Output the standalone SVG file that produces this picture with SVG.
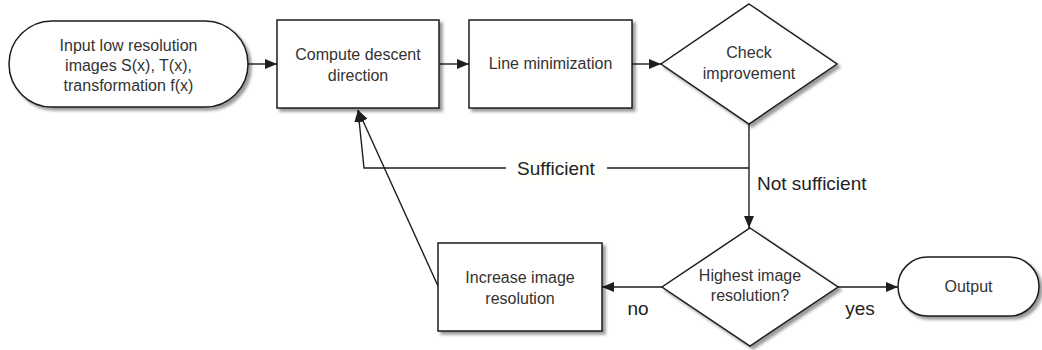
<svg xmlns="http://www.w3.org/2000/svg" width="1042" height="350" viewBox="0 0 1042 350">
  <style>
    .shape { fill: #ffffff; stroke: #1e1e1e; stroke-width: 1.5; filter: url(#shadow); }
    .node-text { font-family: "Liberation Sans", Arial, sans-serif; font-size: 16px; fill: #333333; text-anchor: middle; }
    .edge { fill: none; stroke: #1e1e1e; stroke-width: 1.4; }
    .edge-label { font-family: "Liberation Sans", Arial, sans-serif; font-size: 19px; fill: #222222; }
  </style>
  <defs>
    <filter id="shadow" x="-10%" y="-10%" width="130%" height="140%">
      <feDropShadow dx="3" dy="3" stdDeviation="1.8" flood-color="#000000" flood-opacity="0.4"/>
    </filter>
    <marker id="arrow" viewBox="0 0 12 10" refX="12" refY="5" markerWidth="12" markerHeight="10" markerUnits="userSpaceOnUse" orient="auto">
      <path d="M0,0 L12,5 L0,10 z" fill="#1e1e1e"/>
    </marker>
  </defs>

  <rect width="1042" height="350" fill="#ffffff"/>

  <!-- connectors -->
  <g id="connectors">
    <path class="edge" d="M248,64 L277,64" marker-end="url(#arrow)"/>
    <path class="edge" d="M439,64 L469,64" marker-end="url(#arrow)"/>
    <path class="edge" d="M632,64 L661,64" marker-end="url(#arrow)"/>
    <path class="edge" d="M749,124 L749,228" marker-end="url(#arrow)"/>
    <path class="edge" d="M749,168 L364,168 L358,110" marker-end="url(#arrow)"/>
    <path class="edge" d="M438,286 L358,110" marker-end="url(#arrow)"/>
    <path class="edge" d="M662,287 L602,287" marker-end="url(#arrow)"/>
    <path class="edge" d="M838,287 L898,287" marker-end="url(#arrow)"/>

    <rect x="506" y="154" width="101" height="28" fill="#fffffb"/>
    <text class="edge-label" x="556" y="175" text-anchor="middle">Sufficient</text>
    <text class="edge-label" x="757" y="190">Not sufficient</text>
    <text class="edge-label" x="638" y="315" text-anchor="middle">no</text>
    <text class="edge-label" x="860" y="315" text-anchor="middle">yes</text>
  </g>

  <!-- nodes -->
  <g id="input">
    <rect class="shape" x="9" y="21" width="239" height="86" rx="43" ry="43"/>
    <text class="node-text" x="128.5" y="51">Input low resolution</text>
    <text class="node-text" x="128.5" y="71">images S(x), T(x),</text>
    <text class="node-text" x="128.5" y="91">transformation f(x)</text>
  </g>

  <g id="descent">
    <rect class="shape" x="277" y="20" width="162" height="88"/>
    <text class="node-text" x="358" y="60">Compute descent</text>
    <text class="node-text" x="358" y="81">direction</text>
  </g>

  <g id="linemin">
    <rect class="shape" x="469" y="20" width="163" height="88"/>
    <text class="node-text" x="550.5" y="69">Line minimization</text>
  </g>

  <g id="check">
    <polygon class="shape" points="749,4 837,64 749,124 661,64"/>
    <text class="node-text" x="749" y="58">Check</text>
    <text class="node-text" x="749" y="79">improvement</text>
  </g>

  <g id="highest">
    <polygon class="shape" points="750,228 838,287 750,346 662,287"/>
    <text class="node-text" x="750" y="281">Highest image</text>
    <text class="node-text" x="750" y="301">resolution?</text>
  </g>

  <g id="increase">
    <rect class="shape" x="438" y="243" width="164" height="88"/>
    <text class="node-text" x="520" y="283">Increase image</text>
    <text class="node-text" x="520" y="304">resolution</text>
  </g>

  <g id="output">
    <rect class="shape" x="898" y="257" width="141" height="59" rx="29.5" ry="29.5"/>
    <text class="node-text" x="968.5" y="292">Output</text>
  </g>
</svg>
